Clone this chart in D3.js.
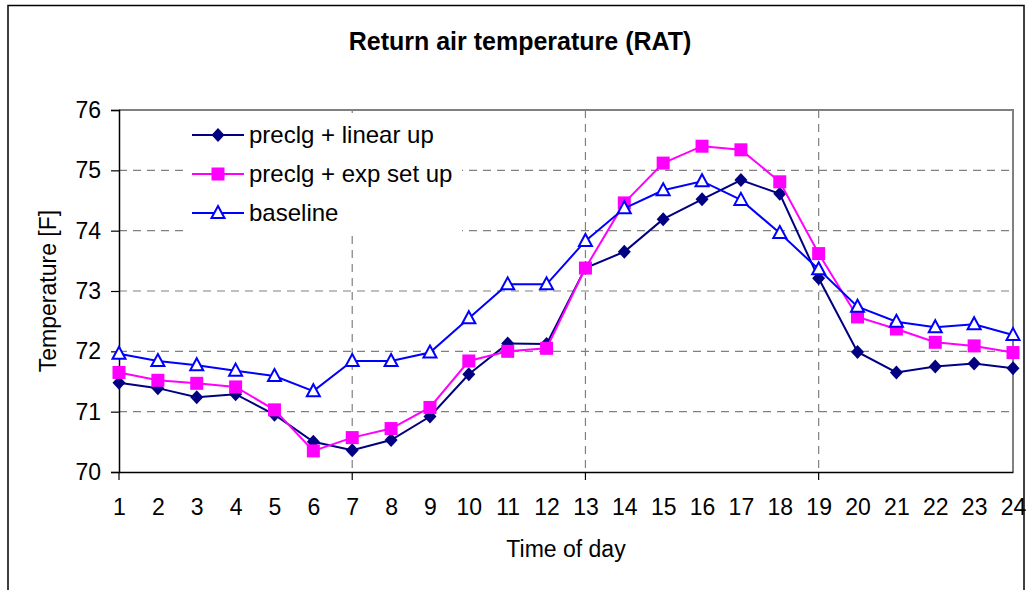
<!DOCTYPE html>
<html><head><meta charset="utf-8">
<script src="https://cdn.jsdelivr.net/npm/d3@7"></script>
<style>body{margin:0;background:#fff}svg{display:block}text{font-family:"Liberation Sans",Arial,sans-serif}</style>
</head><body><svg id="c" width="1028" height="590"></svg>
<script>
const hours = [1,2,3,4,5,6,7,8,9,10,11,12,13,14,15,16,17,18,19,20,21,22,23,24];
const linearUp = [71.48,71.39,71.24,71.29,70.95,70.50,70.36,70.53,70.92,71.62,72.13,72.12,73.38,73.65,74.19,74.52,74.84,74.61,73.21,71.99,71.65,71.75,71.80,71.72];
const expSetUp = [71.65,71.52,71.47,71.41,71.03,70.35,70.57,70.72,71.07,71.84,72.00,72.05,73.38,74.46,75.12,75.40,75.34,74.81,73.62,72.57,72.37,72.15,72.09,71.98];
const baseline = [71.96,71.84,71.77,71.68,71.59,71.34,71.84,71.84,71.98,72.55,73.11,73.11,73.83,74.37,74.67,74.82,74.51,73.96,73.36,72.74,72.49,72.40,72.45,72.27];
const yTicks = [70,71,72,73,74,75,76];
const xGrid = [7,13,19];
const seriesNames = ["preclg + linear up","preclg + exp set up","baseline"];

const svg = d3.select("#c");
const L=119, R=1013, T=110, B=472;
const x = d3.scaleLinear().domain([1,24]).range([L,R]);
const y = d3.scaleLinear().domain([70,76]).range([B,T]);

// outer border
svg.append("rect").attr("x",8).attr("y",5.5).attr("width",1016).attr("height",600)
  .attr("fill","none").attr("stroke","#000").attr("stroke-width",1.5);

// title
svg.append("text").attr("x",520).attr("y",50).attr("text-anchor","middle")
  .attr("font-size",25).attr("font-weight","bold").text("Return air temperature (RAT)");

// grid
const g = svg.append("g");
g.selectAll(".hg").data(yTicks.filter(v=>v>70&&v<76)).join("line")
  .attr("x1",L).attr("x2",R).attr("y1",d=>y(d)).attr("y2",d=>y(d))
  .attr("stroke","#808080").attr("stroke-width",1.2).attr("stroke-dasharray","8,6");
g.selectAll(".vg").data(xGrid).join("line")
  .attr("x1",d=>x(d)).attr("x2",d=>x(d)).attr("y1",T).attr("y2",B)
  .attr("stroke","#808080").attr("stroke-width",1.2).attr("stroke-dasharray","8,6");

// plot border top/right
svg.append("path").attr("d",`M${L},${T}H${R}V${B}`).attr("fill","none").attr("stroke","#808080").attr("stroke-width",2);

// legend background
svg.append("rect").attr("x",183).attr("y",113).attr("width",279).attr("height",122).attr("fill","#fff");

// axes
const ya = svg.append("g").attr("transform",`translate(${L},0)`)
  .call(d3.axisLeft(y).tickValues(yTicks).tickSize(8).tickPadding(10).tickFormat(d3.format("d")));
ya.select(".domain").attr("stroke","#000").attr("stroke-width",1.5);
ya.selectAll(".tick line").attr("stroke","#000").attr("stroke-width",1.2);
ya.selectAll("text").attr("font-size",23).attr("fill","#000").attr("font-family","Liberation Sans, Arial, sans-serif");

const xa = svg.append("g").attr("transform",`translate(0,${B})`)
  .call(d3.axisBottom(x).tickValues(hours).tickSize(0).tickPadding(43).tickFormat(d3.format("d")));
xa.select(".domain").attr("stroke","#000").attr("stroke-width",1.5);
xa.selectAll("text").attr("font-size",23).attr("fill","#000").attr("font-family","Liberation Sans, Arial, sans-serif").attr("dy","0");
// major x ticks
svg.append("g").selectAll("line").data([1,7,13,19]).join("line")
  .attr("x1",d=>x(d)).attr("x2",d=>x(d)).attr("y1",B).attr("y2",B+8)
  .attr("stroke","#000").attr("stroke-width",1.2);

// axis titles
svg.append("text").attr("x",566).attr("y",557).attr("text-anchor","middle").attr("font-size",23).text("Time of day");
svg.append("text").attr("transform","translate(56,291) rotate(-90)").attr("text-anchor","middle").attr("font-size",23).text("Temperature [F]");

const line = d3.line().x((d,i)=>x(hours[i])).y(d=>y(d));
const series = [
  {name:seriesNames[0], data:linearUp, color:"#000080", marker:"diamond"},
  {name:seriesNames[1], data:expSetUp, color:"#FF00FF", marker:"square"},
  {name:seriesNames[2], data:baseline, color:"#0000FF", marker:"triangle"}
];
function drawMarker(sel, s, cx, cy){
  if(s.marker==="diamond"){
    sel.append("path").attr("d",`M${cx},${cy-7}L${cx+6.5},${cy}L${cx},${cy+7}L${cx-6.5},${cy}Z`).attr("fill",s.color);
  } else if(s.marker==="square"){
    sel.append("rect").attr("x",cx-6.5).attr("y",cy-6.5).attr("width",13).attr("height",13).attr("fill",s.color);
  } else {
    sel.append("path").attr("d",`M${cx},${cy-7}L${cx+6.5},${cy+5}L${cx-6.5},${cy+5}Z`).attr("fill","#fff").attr("stroke",s.color).attr("stroke-width",2);
  }
}
series.forEach(s=>{
  const gs = svg.append("g");
  gs.append("path").datum(s.data).attr("d",line).attr("fill","none").attr("stroke",s.color).attr("stroke-width",2);
  s.data.forEach((v,i)=>drawMarker(gs,s,x(hours[i]),y(v)));
});

// legend
const legY=[135,174,213];
series.forEach((s,i)=>{
  const lg = svg.append("g");
  lg.append("line").attr("x1",192).attr("x2",244).attr("y1",legY[i]).attr("y2",legY[i]).attr("stroke",s.color).attr("stroke-width",2);
  drawMarker(lg,s,218,legY[i]);
  lg.append("text").attr("x",249).attr("y",legY[i]+8).attr("font-size",24).text(s.name);
});
</script></body></html>
